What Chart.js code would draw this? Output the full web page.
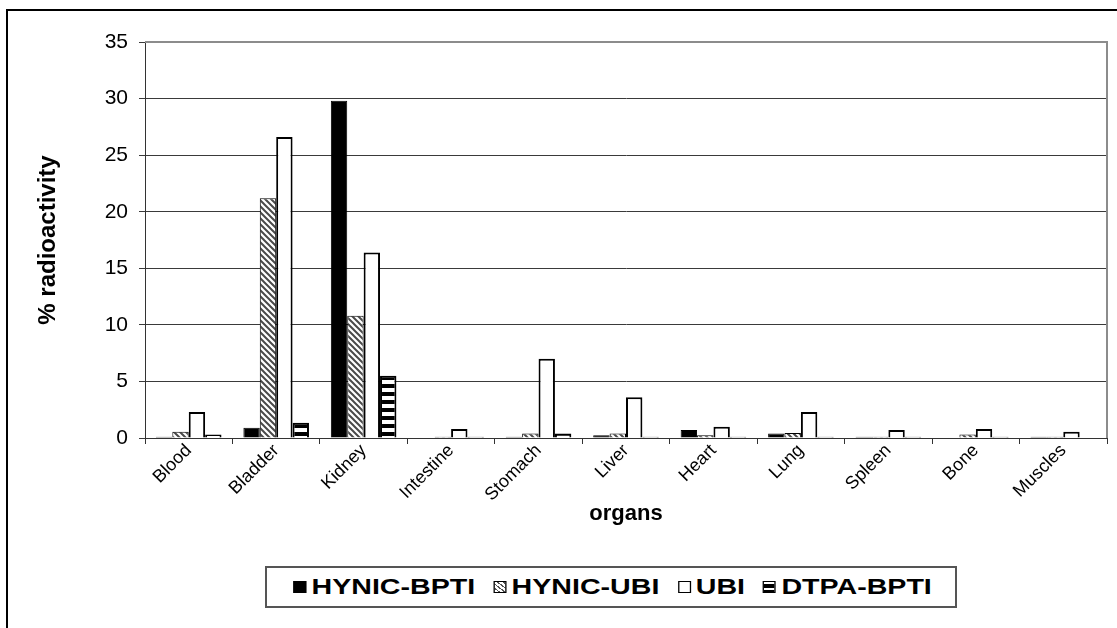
<!DOCTYPE html>
<html>
<head>
<meta charset="utf-8">
<script src="https://cdn.jsdelivr.net/npm/chart.js@4.4.1/dist/chart.umd.min.js"></script>
<style>
  html, body { margin: 0; padding: 0; background: #fff; }
  #wrap { position: relative; width: 1117px; height: 628px; overflow: hidden; }
  #frame { position: absolute; left: 6px; top: 9px; width: 1200px; height: 700px;
           border-left: 2px solid #000; border-top: 2px solid #000; }
  #chartBox { position: absolute; left: 0; top: 0; width: 1117px; height: 628px; }
  #legend { position: absolute; left: 265px; top: 566px; width: 688px; height: 38px;
            border: 2px solid #555; background: #fff;
            display: flex; justify-content: center; align-items: center;
            font-family: "Liberation Sans", Arial, sans-serif; font-weight: bold; font-size: 22px; }
  #legendRow { display: flex; gap: 14px; white-space: nowrap; transform: scaleX(1.3); margin-left: 3px; }
  .sw { display: inline-block; width: 10px; height: 12px; box-sizing: border-box;
        border: 1px solid #000; margin-right: 4px; vertical-align: 1px; }
  .sw.bpti { background: #000; }
  .sw.hubi { background: repeating-linear-gradient(45deg, #fff 0 2px, #555 2px 3px); }
  .sw.ubi { background: #fff; border-width: 1.5px; }
  .sw.dtpa { background: repeating-linear-gradient(180deg, #fff 0 2px, #000 2px 6px); border-width: 1.5px; }
</style>
</head>
<body>
<div id="wrap">
  <div id="frame"></div>
  <div id="chartBox"><canvas id="organChart"></canvas></div>
  <div id="legend">
    <div id="legendRow">
      <span><span class="sw bpti"></span>HYNIC-BPTI</span>
      <span><span class="sw hubi"></span>HYNIC-UBI</span>
      <span><span class="sw ubi"></span>UBI</span>
      <span><span class="sw dtpa"></span>DTPA-BPTI</span>
    </div>
  </div>
</div>
<script>
// organs on the x axis
const organs = ['Blood', 'Bladder', 'Kidney', 'Intestine', 'Stomach', 'Liver', 'Heart', 'Lung', 'Spleen', 'Bone', 'Muscles'];

// % radioactivity per organ
const hynicBpti = [0.1, 0.9, 29.8, 0, 0.1, 0.25, 0.7, 0.4, 0.1, 0, 0.1];
const hynicUbi  = [0.55, 21.2, 10.8, 0.1, 0.4, 0.4, 0.25, 0.45, 0.1, 0.3, 0.1];
const ubi       = [2.3, 26.6, 16.4, 0.8, 7.0, 3.6, 1.0, 2.3, 0.7, 0.8, 0.55];
const dtpaBpti  = [0.3, 1.35, 5.5, 0.1, 0.4, 0.1, 0.1, 0.1, 0.1, 0.1, 0];

const yTicks = [0, 5, 10, 15, 20, 25, 30, 35];

const FONT = '"Liberation Sans", Arial, sans-serif';

// small tiles for the hatched fills
function makePattern(size, draw) {
  const c = document.createElement('canvas');
  c.width = size; c.height = size;
  const g = c.getContext('2d');
  g.fillStyle = '#fff';
  g.fillRect(0, 0, size, size);
  draw(g, size);
  return g.createPattern(c, 'repeat');
}

const ctx0 = document.getElementById('organChart').getContext('2d');

const diagHatch = makePattern(6, (g, s) => {
  g.strokeStyle = '#4a4a4a';
  g.lineWidth = 2;
  g.beginPath();
  g.moveTo(-1, -1); g.lineTo(s + 1, s + 1);
  g.moveTo(-1, s - 1); g.lineTo(1, s + 1);
  g.moveTo(s - 1, -1); g.lineTo(s + 1, 1);
  g.stroke();
});

const horizStripes = makePattern(8, (g, s) => {
  g.fillStyle = '#000';
  g.fillRect(0, 0, s, 4);
});

// grey plot-area border on top and right, like the original
const plotBorder = {
  id: 'plotBorder',
  afterDraw(chart) {
    const { ctx, chartArea: a } = chart;
    ctx.save();
    ctx.strokeStyle = '#8c8c8c';
    ctx.lineWidth = 2;
    ctx.beginPath();
    ctx.moveTo(a.left, a.top);
    ctx.lineTo(a.right, a.top);
    ctx.lineTo(a.right, a.bottom);
    ctx.stroke();
    ctx.restore();
  }
};

new Chart(ctx0, {
  type: 'bar',
  data: {
    labels: organs,
    datasets: [
      { label: 'HYNIC-BPTI', data: hynicBpti, backgroundColor: '#000', borderColor: '#000', borderWidth: 1 },
      { label: 'HYNIC-UBI', data: hynicUbi, backgroundColor: diagHatch, borderColor: '#000', borderWidth: 1 },
      { label: 'UBI', data: ubi, backgroundColor: '#fff', borderColor: '#000', borderWidth: 2 },
      { label: 'DTPA-BPTI', data: dtpaBpti, backgroundColor: horizStripes, borderColor: '#000', borderWidth: 2 }
    ]
  },
  options: {
    responsive: true,
    maintainAspectRatio: false,
    animation: false,
    datasets: {
      bar: { categoryPercentage: 0.75, barPercentage: 1 }
    },
    layout: {
      padding: { left: 20, top: 42, right: 10, bottom: 90 }
    },
    plugins: {
      legend: { display: false }, // HTML legend below
      tooltip: { enabled: false }
    },
    scales: {
      x: {
        afterFit: (s) => { s.height = 100; },
        border: { color: '#333', width: 1 },
        grid: { offset: true, drawOnChartArea: false, tickLength: 6, color: '#333' },
        ticks: {
          color: '#000',
          font: { family: FONT, size: 18 },
          minRotation: 45,
          maxRotation: 45,
          padding: -4
        },
        title: {
          display: true,
          text: 'organs',
          color: '#000',
          font: { family: FONT, size: 22, weight: 'bold' },
          padding: { top: 0, bottom: 11 }
        }
      },
      y: {
        min: 0,
        max: 35,
        afterFit: (s) => { s.width = 125; },
        afterBuildTicks: (s) => { s.ticks = yTicks.map(v => ({ value: v })); },
        border: { color: '#333', width: 1 },
        grid: { color: '#3a3a3a', tickLength: 6 },
        ticks: {
          color: '#000',
          font: { family: FONT, size: 21 },
          padding: 11
        },
        title: {
          display: true,
          text: '% radioactivity',
          color: '#000',
          font: { family: FONT, size: 24, weight: 'bold' },
          padding: { top: 14, bottom: 0 }
        }
      }
    }
  },
  plugins: [plotBorder]
});
</script>
</body>
</html>
